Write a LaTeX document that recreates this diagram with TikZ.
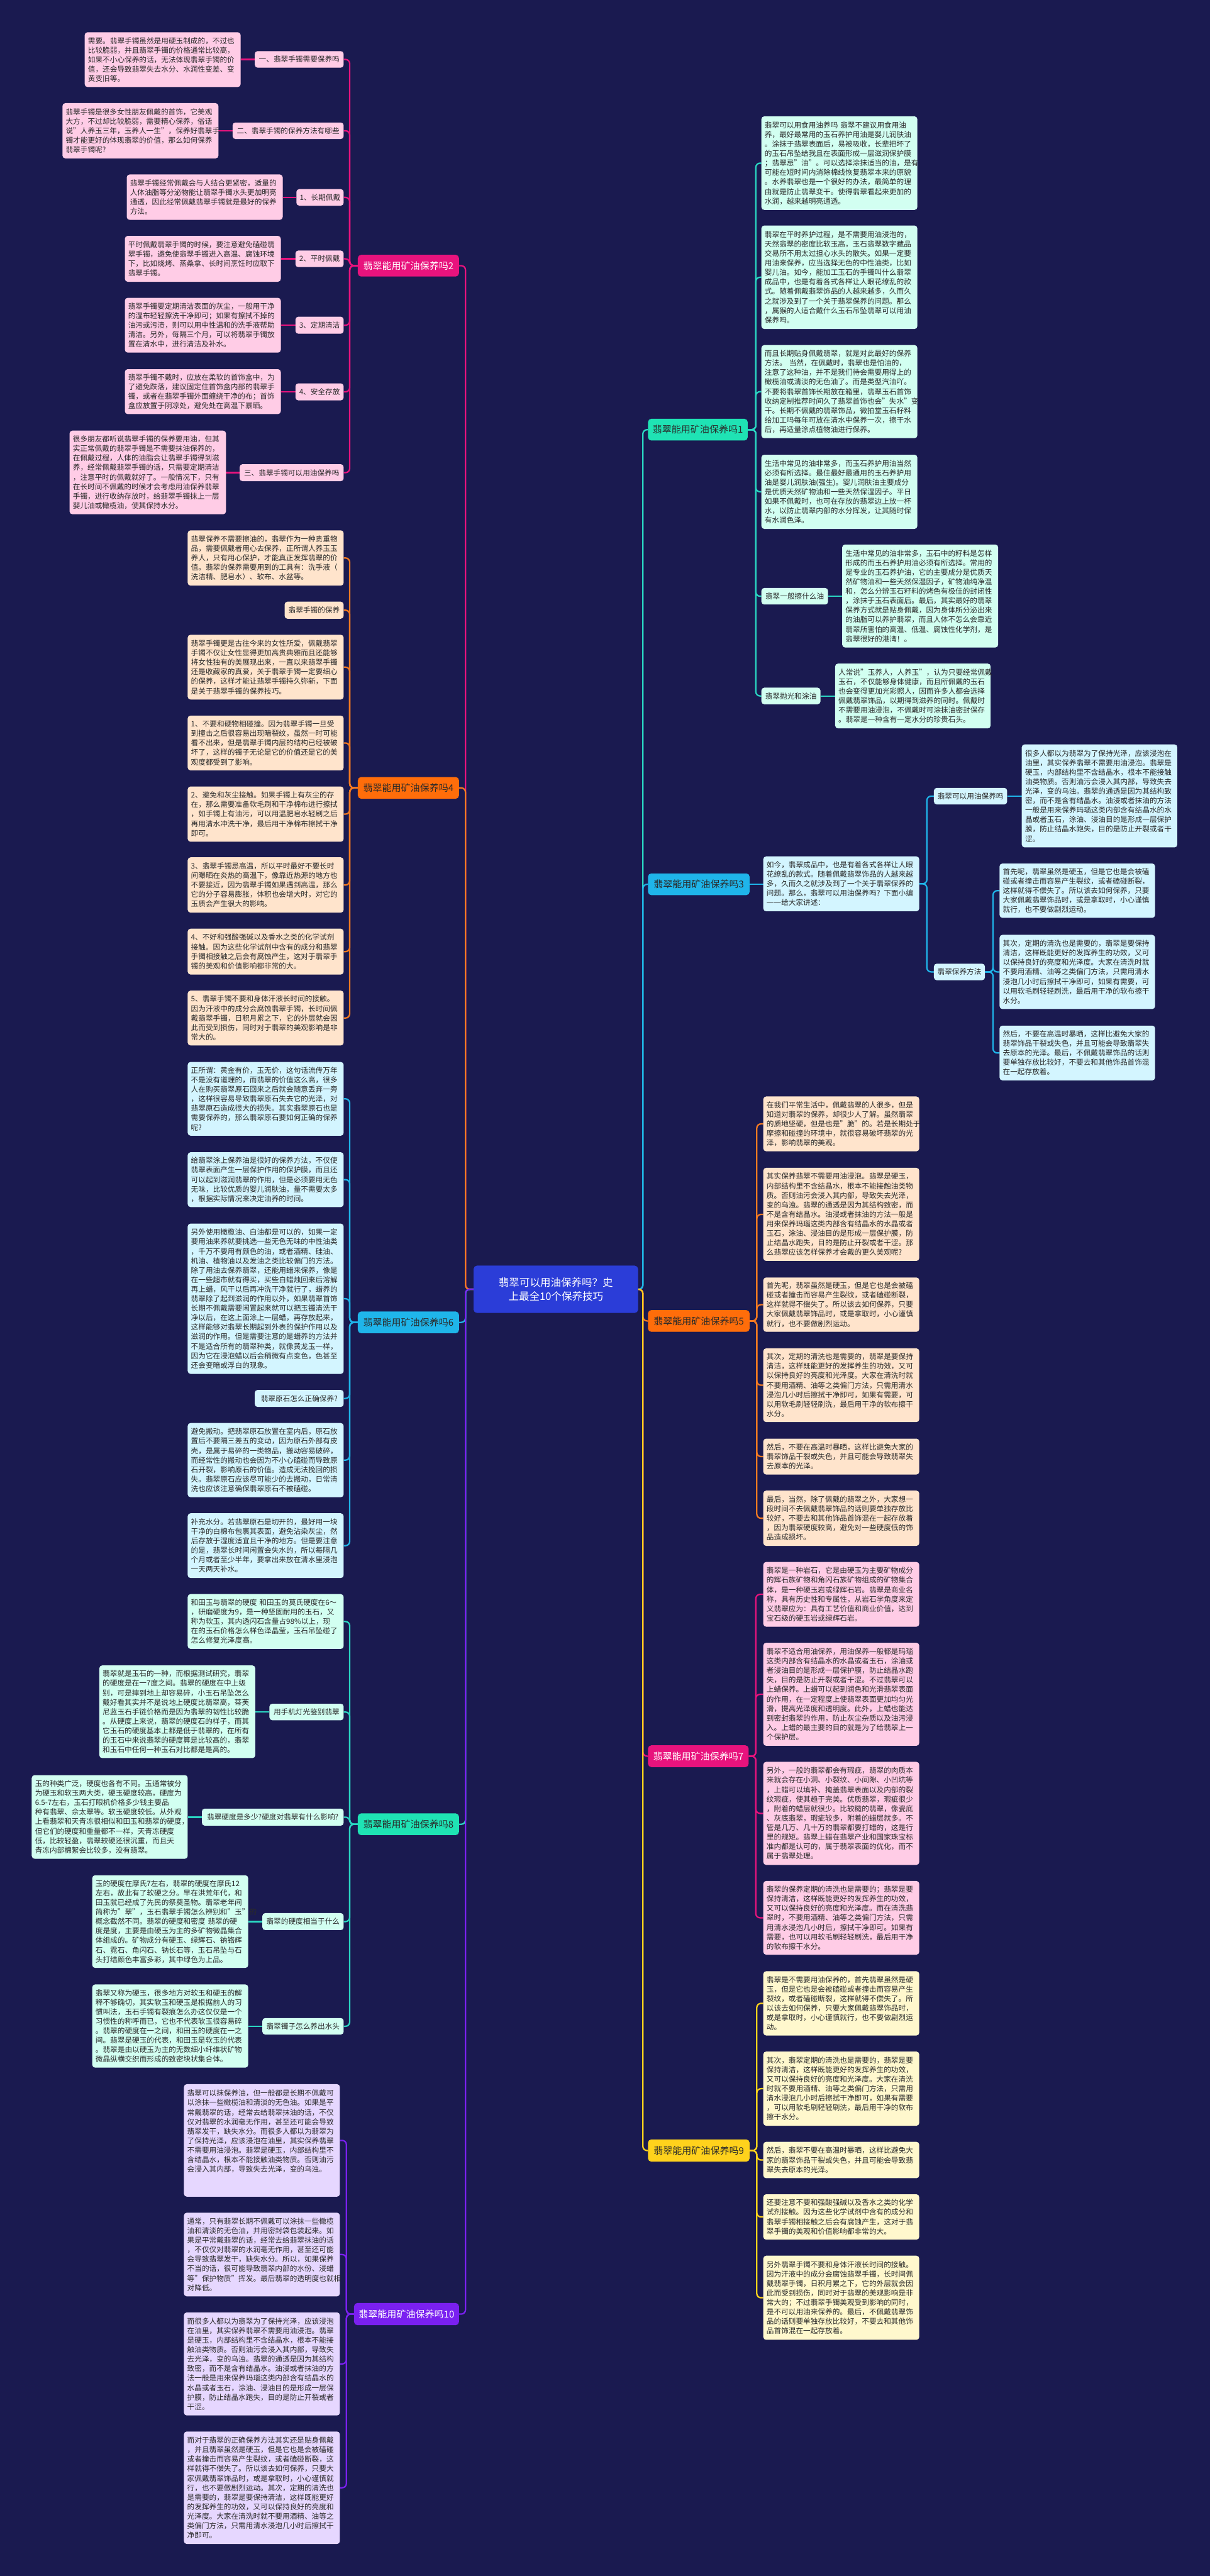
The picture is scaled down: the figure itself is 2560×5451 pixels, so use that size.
\documentclass[tikz,border=0pt]{standalone}
\usepackage{fontspec}
\setmainfont{Noto Sans CJK SC}
\usetikzlibrary{calc}
\pgfdeclarelayer{bgl}
\pgfsetlayers{bgl,main}
\definecolor{bg}{HTML}{1A1A50}
\definecolor{txt}{HTML}{2A2A2A}
\definecolor{rootc}{HTML}{2B3DD8}
\definecolor{pkL}{HTML}{E8137D}\definecolor{pkF}{HTML}{FFCCE6}
\definecolor{orL}{HTML}{FF6D0A}\definecolor{orF}{HTML}{FFE4CC}\definecolor{orC}{HTML}{F57A22}
\definecolor{cyL}{HTML}{1FB5EA}\definecolor{cyF}{HTML}{D3F5FF}
\definecolor{tlL}{HTML}{1FE3B4}\definecolor{tlF}{HTML}{D2FFF1}\definecolor{tlC}{HTML}{2AD6C2}
\definecolor{puL}{HTML}{7A20F0}\definecolor{puF}{HTML}{E6D7FF}
\definecolor{ylL}{HTML}{FFD21C}\definecolor{ylF}{HTML}{FFF8CD}
\tikzset{
  lf/.style={rectangle,rounded corners=6pt,inner xsep=7pt,inner ysep=0pt,align=left,text=txt,font=\fontsize{15.5}{20.1}\selectfont},
  lb/.style={rectangle,rounded corners=7pt,inner sep=0pt,align=center,text=txt,font=\fontsize{20}{24}\selectfont},
  sb/.style={rectangle,rounded corners=6pt,inner sep=0pt,align=center,text=txt,font=\fontsize{15.5}{20.1}\selectfont},
  cn/.style={line width=3pt,rounded corners=9pt},
}
\newcommand\mkleaf[7]{\pgfmathsetmacro\myw{#5-#3}\pgfmathsetmacro\myh{#6-#4}\pgfmathsetmacro\mytw{#5-#3-14}%
  \node[lf,#1,anchor=north west,minimum width=\myw pt,minimum height=\myh pt,text width=\mytw pt] (#2) at (#3,#4) {#7};}
\newcommand\mklab[7]{\pgfmathsetmacro\myw{#5-#3}\pgfmathsetmacro\myh{#6-#4}%
  \node[#1,anchor=north west,minimum width=\myw pt,minimum height=\myh pt] (#2) at (#3,#4) {#7};}
\begin{document}
\begin{tikzpicture}[x=1pt,y=-1pt]
\begin{pgfonlayer}{bgl}
\fill[bg] (0,0) rectangle (2560,5451);
\end{pgfonlayer}
% root
\mklab{lb,fill=rootc,text=white,font=\fontsize{22}{30}\selectfont}{root}{1002}{2678}{1350}{2778}{翡翠可以用油保养吗？史\\上最全10个保养技巧}
% ===== branch 2
\mklab{lb,fill=pkL,text=white}{b2}{757}{539}{971}{585}{翡翠能用矿油保养吗2}
\mklab{sb,fill=pkF}{s2a}{539}{108}{727}{143}{一、翡翠手镯需要保养吗}
\mkleaf{fill=pkF}{l2a}{179}{68}{509}{184}{需要。翡翠手镯虽然是用硬玉制成的，不过也\\比较脆弱，并且翡翠手镯的价格通常比较高，\\如果不小心保养的话，无法体现翡翠手镯的价\\值，还会导致翡翠失去水分、水润性变差、变\\黄变旧等。}
\mklab{sb,fill=pkF}{s2b}{492}{259}{727}{294}{二、翡翠手镯的保养方法有哪些}
\mkleaf{fill=pkF}{l2b}{132}{218}{462}{335}{翡翠手镯是很多女性朋友佩戴的首饰，它美观\\大方，不过却比较脆弱，需要精心保养，俗话\\说"人养玉三年，玉养人一生"，保养好翡翠手\\镯才能更好的体现翡翠的价值，那么如何保养\\翡翠手镯呢?}
\mklab{sb,fill=pkF}{s2c}{627}{400}{727}{435}{1、长期佩戴}
\mkleaf{fill=pkF}{l2c}{268}{369}{598}{465}{翡翠手镯经常佩戴会与人结合更紧密，适量的\\人体油脂等分泌物能让翡翠手镯水头更加明亮\\通透，因此经常佩戴翡翠手镯就是最好的保养\\方法。}
\mklab{sb,fill=pkF}{s2d}{625}{530}{727}{565}{2、平时佩戴}
\mkleaf{fill=pkF}{l2d}{264}{499}{594}{596}{平时佩戴翡翠手镯的时候，要注意避免磕碰翡\\翠手镯，避免使翡翠手镯进入高温、腐蚀环境\\下，比如烧烤、蒸桑拿、长时间烹饪时应取下\\翡翠手镯。}
\mklab{sb,fill=pkF}{s2e}{625}{670}{727}{706}{3、定期清洁}
\mkleaf{fill=pkF}{l2e}{264}{630}{594}{746}{翡翠手镯要定期清洁表面的灰尘，一般用干净\\的湿布轻轻擦洗干净即可；如果有擦拭不掉的\\油污或污渍，则可以用中性温和的洗手液帮助\\清洁。另外，每隔三个月，可以将翡翠手镯放\\置在清水中，进行清洁及补水。}
\mklab{sb,fill=pkF}{s2f}{625}{811}{727}{847}{4、安全存放}
\mkleaf{fill=pkF}{l2f}{264}{781}{594}{876}{翡翠手镯不戴时，应放在柔软的首饰盒中，为\\了避免跌落，建议固定住首饰盒内部的翡翠手\\镯，或者在翡翠手镯外面缠绕干净的布；首饰\\盒应放置于阴凉处，避免处在高温下暴晒。}
\mklab{sb,fill=pkF}{s2g}{507}{982}{727}{1018}{三、翡翠手镯可以用油保养吗}
\mkleaf{fill=pkF}{l2g}{147}{911}{478}{1088}{很多朋友都听说翡翠手镯的保养要用油，但其\\实正常佩戴的翡翠手镯是不需要抹油保养的，\\在佩戴过程，人体的油脂会让翡翠手镯得到滋\\养，经常佩戴翡翠手镯的话，只需要定期清洁\\，注意平时的佩戴就好了。一般情况下，只有\\在长时间不佩戴的时候才会考虑用油保养翡翠\\手镯，进行收纳存放时，给翡翠手镯抹上一层\\婴儿油或橄榄油，使其保持水分。}
% ===== branch 4
\mklab{lb,fill=orL}{b4}{757}{1644}{971}{1690}{翡翠能用矿油保养吗4}
\mkleaf{fill=orF}{l4a}{397}{1122}{727}{1239}{翡翠保养不需要擦油的，翡翠作为一种贵重物\\品，需要佩戴者用心去保养，正所谓人养玉玉\\养人，只有用心保护，才能真正发挥翡翠的价\\值。翡翠的保养需要用到的工具有：洗手液（\\洗洁精、肥皂水）、软布、水盆等。}
\mklab{sb,fill=orF}{l4b}{602}{1273}{727}{1309}{翡翠手镯的保养}
\mkleaf{fill=orF}{l4c}{397}{1343}{727}{1480}{翡翠手镯更是古往今来的女性所爱，佩戴翡翠\\手镯不仅让女性显得更加高贵典雅而且还能够\\将女性独有的美展现出来，一直以来翡翠手镯\\还是收藏家的真爱，关于翡翠手镯一定要细心\\的保养，这样才能让翡翠手镯持久弥新，下面\\是关于翡翠手镯的保养技巧。}
\mkleaf{fill=orF}{l4d}{397}{1514}{727}{1630}{1、不要和硬物相碰撞。因为翡翠手镯一旦受\\到撞击之后很容易出现暗裂纹，虽然一时可能\\看不出来，但是翡翠手镯内层的结构已经被破\\坏了，这样的镯子无论是它的价值还是它的美\\观度都受到了影响。}
\mkleaf{fill=orF}{l4e}{397}{1664}{727}{1781}{2、避免和灰尘接触。如果手镯上有灰尘的存\\在，那么需要准备软毛刷和干净棉布进行擦拭\\，如手镯上有油污，可以用温肥皂水轻刷之后\\再用清水冲洗干净，最后用干净棉布擦拭干净\\即可。}
\mkleaf{fill=orF}{l4f}{397}{1814}{727}{1931}{3、翡翠手镯忌高温，所以平时最好不要长时\\间曝晒在炎热的高温下，像靠近热源的地方也\\不要接近，因为翡翠手镯如果遇到高温，那么\\它的分子容易膨胀，体积也会增大时，对它的\\玉质会产生很大的影响。}
\mkleaf{fill=orF}{l4g}{397}{1965}{727}{2062}{4、不好和强酸强碱以及香水之类的化学试剂\\接触。因为这些化学试剂中含有的成分和翡翠\\手镯相接触之后会有腐蚀产生，这对于翡翠手\\镯的美观和价值影响都非常的大。}
\mkleaf{fill=orF}{l4h}{397}{2096}{727}{2212}{5、翡翠手镯不要和身体汗液长时间的接触。\\因为汗液中的成分会腐蚀翡翠手镯，长时间佩\\戴翡翠手镯，日积月累之下，它的外层就会因\\此而受到损伤，同时对于翡翠的美观影响是非\\常大的。}
% ===== branch 6
\mklab{lb,fill=cyL}{b6}{757}{2775}{971}{2821}{翡翠能用矿油保养吗6}
\mkleaf{fill=cyF}{l6a}{397}{2247}{727}{2403}{正所谓：黄金有价，玉无价，这句话流传万年\\不是没有道理的，而翡翠的价值这么高，很多\\人在购买翡翠原石回来之后就会随意丢弃一旁\\，这样很容易导致翡翠原石失去它的光泽，对\\翡翠原石造成很大的损失。其实翡翠原石也是\\需要保养的，那么翡翠原石要如何正确的保养\\呢?}
\mkleaf{fill=cyF}{l6b}{397}{2438}{727}{2554}{给翡翠涂上保养油是很好的保养方法，不仅使\\翡翠表面产生一层保护作用的保护膜，而且还\\可以起到滋润翡翠的作用，但是必须要用无色\\无味，比较优质的婴儿润肤油，量不需要太多\\，根据实际情况来决定油养的时间。}
\mkleaf{fill=cyF}{l6c}{397}{2589}{727}{2907}{另外使用橄榄油、白油都是可以的，如果一定\\要用油来养就要挑选一些无色无味的中性油类\\，千万不要用有颜色的油，或者酒精、硅油、\\机油、植物油以及发油之类比较偏门的方法。\\除了用油去保养翡翠，还能用蜡来保养，像是\\在一些超市就有得买，买些白蜡烛回来后溶解\\再上蜡，风干以后再冲洗干净就行了，蜡养的\\翡翠除了起到滋润的作用以外，如果翡翠首饰\\长期不佩戴需要闲置起来就可以把玉镯清洗干\\净以后，在这上面涂上一层蜡，再存放起来，\\这样能够对翡翠长期起到外表的保护作用以及\\滋润的作用。但是需要注意的是蜡养的方法并\\不是适合所有的翡翠种类，就像黄龙玉一样，\\因为它在浸泡蜡以后会稍微有点变色，色甚至\\还会变暗或浮白的现象。}
\mklab{sb,fill=cyF}{l6d}{539}{2941}{727}{2977}{翡翠原石怎么正确保养?}
\mkleaf{fill=cyF}{l6e}{397}{3011}{727}{3168}{避免搬动。把翡翠原石放置在室内后，原石放\\置后不要隔三差五的变动，因为原石外部有皮\\壳，是属于易碎的一类物品，搬动容易破碎，\\而经常性的搬动也会因为不小心磕碰而导致原\\石开裂，影响原石的价值。造成无法挽回的损\\失。翡翠原石应该尽可能少的去搬动，日常清\\洗也应该注意确保翡翠原石不被磕碰。}
\mkleaf{fill=cyF}{l6f}{397}{3202}{727}{3339}{补充水分。若翡翠原石是切开的，最好用一块\\干净的白棉布包裹其表面，避免沾染灰尘，然\\后存放于湿度适宜且干净的地方。但是要注意\\的是，翡翠长时间闲置会失水的，所以每隔几\\个月或者至少半年，要拿出来放在清水里浸泡\\一天两天补水。}
% ===== branch 8
\mklab{lb,fill=tlL}{b8}{757}{3837}{971}{3883}{翡翠能用矿油保养吗8}
\mkleaf{fill=tlF}{l8a}{397}{3373}{727}{3489}{和田玉与翡翠的硬度 和田玉的莫氏硬度在6～\\，研磨硬度为9，是一种坚固耐用的玉石，又\\称为软玉，其内透闪石含量占98\%以上，现\\在的玉石价格怎么样色泽晶莹，玉石吊坠碰了\\怎么修复光泽度高。}
\mklab{sb,fill=tlF}{s8b}{570}{3605}{727}{3640}{用手机灯光鉴别翡翠}
\mkleaf{fill=tlF}{l8b}{210}{3524}{540}{3720}{翡翠就是玉石的一种，而根据测试研究，翡翠\\的硬度是在一7度之间。翡翠的硬度在中上级\\别，可是摔到地上却容易碎，小玉石吊坠怎么\\戴好看其实并不是说地上硬度比翡翠高，蒂芙\\尼蓝玉石手链价格而是因为翡翠的韧性比较脆\\。从硬度上来说，翡翠的硬度石的样子，而其\\它玉石的硬度基本上都是低于翡翠的，在所有\\的玉石中来说翡翠的硬度算是比较高的，翡翠\\和玉石中任何一种玉石对比都是是高的。}
\mklab{sb,fill=tlF}{s8c}{427}{3827}{727}{3863}{翡翠硬度是多少?硬度对翡翠有什么影响?}
\mkleaf{fill=tlF}{l8c}{67}{3756}{397}{3933}{玉的种类广泛，硬度也各有不同。玉通常被分\\为硬玉和软玉两大类，硬玉硬度较高，硬度为\\6.5-7左右，玉石打眼机价格多少钱主要品\\种有翡翠、佘太翠等。软玉硬度较低。从外观\\上看翡翠和天青冻很相似和田玉和翡翠的硬度，\\但它们的硬度和重量都不一样，天青冻硬度\\低，比较轻盈，翡翠较硬还很沉重，而且天\\青冻内部棉絮会比较多，没有翡翠。}
\mklab{sb,fill=tlF}{s8d}{555}{4048}{727}{4084}{翡翠的硬度相当于什么}
\mkleaf{fill=tlF}{l8d}{195}{3968}{525}{4164}{玉的硬度在摩氏7左右，翡翠的硬度在摩氏12\\左右，故此有了软硬之分。早在洪荒年代，和\\田玉就已经成了先民的祭奠圣物。翡翠老年间\\简称为"翠"，玉石翡翠手镯怎么辨别和"玉"的\\概念截然不同。翡翠的硬度和密度 翡翠的硬\\度是度，主要是由硬玉为主的多矿物微晶集合\\体组成的。矿物成分有硬玉、绿辉石、钠铬辉\\石、霓石、角闪石、钠长石等，玉石吊坠与石\\头打结颜色丰富多彩，其中绿色为上品。}
\mklab{sb,fill=tlF}{s8e}{555}{4270}{727}{4305}{翡翠镯子怎么养出水头}
\mkleaf{fill=tlF}{l8e}{195}{4199}{525}{4375}{翡翠又称为硬玉，很多地方对软玉和硬玉的解\\释不够确切，其实软玉和硬玉是根据前人的习\\惯叫法，玉石手镯有裂痕怎么办这仅仅是一个\\习惯性的称呼而已，它也不代表软玉很容易碎\\。翡翠的硬度在一之间，和田玉的硬度在一之\\间。翡翠是硬玉的代表，和田玉是软玉的代表\\。翡翠是由以硬玉为主的无数细小纤维状矿物\\微晶纵横交织而形成的致密块状集合体。}
% ===== branch 10
\mklab{lb,fill=puL,text=white}{b10}{749}{4873}{971}{4920}{翡翠能用矿油保养吗10}
\mkleaf{fill=puF}{l10a}{389}{4410}{719}{4648}{翡翠可以抹保养油，但一般都是长期不佩戴可\\以涂抹一些橄榄油和清淡的无色油。如果是平\\常戴翡翠的话，经常去给翡翠抹油的话，不仅\\仅对翡翠的水润毫无作用，甚至还可能会导致\\翡翠发干，缺失水分。而很多人都以为翡翠为\\了保持光泽，应该浸泡在油里，其实保养翡翠\\不需要用油浸泡。翡翠是硬玉，内部结构里不\\含结晶水，根本不能接触油类物质。否则油污\\会浸入其内部，导致失去光泽，变的乌浊。\\~\\~}
\mkleaf{fill=puF}{l10b}{389}{4682}{719}{4859}{通常，只有翡翠长期不佩戴可以涂抹一些橄榄\\油和清淡的无色油，并用密封袋包装起来。如\\果是平常戴翡翠的话，经常去给翡翠抹油的话\\，不仅仅对翡翠的水润毫无作用，甚至还可能\\会导致翡翠发干，缺失水分。所以，如果保养\\不当的话，很可能导致翡翠内部的水份、浸蜡\\等"保护物质"挥发。最后翡翠的透明度也就相\\对降低。}
\mkleaf{fill=puF}{l10c}{389}{4893}{719}{5111}{而很多人都以为翡翠为了保持光泽，应该浸泡\\在油里，其实保养翡翠不需要用油浸泡。翡翠\\是硬玉，内部结构里不含结晶水，根本不能接\\触油类物质。否则油污会浸入其内部，导致失\\去光泽，变的乌浊。翡翠的通透是因为其结构\\致密，而不是含有结晶水。油浸或者抹油的方\\法一般是用来保养玛瑙这类内部含有结晶水的\\水晶或者玉石，涂油、浸油目的是形成一层保\\护膜，防止结晶水跑失，目的是防止开裂或者\\干涩。}
\mkleaf{fill=puF}{l10d}{389}{5145}{719}{5383}{而对于翡翠的正确保养方法其实还是贴身佩戴\\，并且翡翠虽然是硬玉，但是它也是会被磕碰\\或者撞击而容易产生裂纹，或者磕碰断裂，这\\样就得不偿失了。所以该去如何保养，只要大\\家佩戴翡翠饰品时，或是拿取时，小心谨慎就\\行，也不要做剧烈运动。其次，定期的清洗也\\是需要的，翡翠是要保持清洁，这样既能更好\\的发挥养生的功效，又可以保持良好的亮度和\\光泽度。大家在清洗时就不要用酒精、油等之\\类偏门方法，只需用清水浸泡几小时后擦拭干\\净即可。}
% ===== branch 1
\mklab{lb,fill=tlL}{b1}{1371}{886}{1582}{932}{翡翠能用矿油保养吗1}
\mkleaf{fill=tlF}{l1a}{1611}{246}{1941}{444}{翡翠可以用食用油养吗 翡翠不建议用食用油\\养，最好最常用的玉石养护用油是婴儿润肤油\\。涂抹于翡翠表面后，易被吸收，长辈把坏了\\的玉石吊坠给我且在表面形成一层滋润保护膜\\；翡翠忌"油"。可以选择涂抹适当的油，是有\\可能在短时间内消除棉线恢复翡翠本来的原貌\\。水养翡翠也是一个很好的办法，最简单的理\\由就是防止翡翠变干。使得翡翠看起来更加的\\水润，越来越明亮通透。}
\mkleaf{fill=tlF}{l1b}{1611}{477}{1941}{696}{翡翠在平时养护过程，是不需要用油浸泡的，\\天然翡翠的密度比软玉高，玉石翡翠数字藏品\\交易所不用太过担心水头的散失。如果一定要\\用油来保养，应当选择无色的中性油类，比如\\婴儿油。如今，能加工玉石的手镯叫什么翡翠\\成品中，也是有着各式各样让人眼花缭乱的款\\式。随着佩戴翡翠饰品的人越来越多，久而久\\之就涉及到了一个关于翡翠保养的问题。那么\\，属猴的人适合戴什么玉石吊坠翡翠可以用油\\保养吗。}
\mkleaf{fill=tlF}{l1c}{1611}{730}{1941}{927}{而且长期贴身佩戴翡翠，就是对此最好的保养\\方法。 当然，在佩戴时，翡翠也是怕油的，\\注意了这种油，并不是我们待会需要用得上的\\橄榄油或清淡的无色油了。而是类型汽油吖。\\不要将翡翠首饰长期放在箱里，翡翠玉石首饰\\收纳定制推荐时间久了翡翠首饰也会"失水"变\\干。长期不佩戴的翡翠饰品，微拍堂玉石籽料\\给加工吗每年可放在清水中保养一次，擦干水\\后，再适量涂点植物油进行保养。}
\mkleaf{fill=tlF}{l1d}{1611}{962}{1941}{1119}{生活中常见的油非常多，而玉石养护用油当然\\必须有所选择。最佳最好最通用的玉石养护用\\油是婴儿润肤油(强生)。婴儿润肤油主要成分\\是优质天然矿物油和一些天然保湿因子。平日\\如果不佩戴时，也可在存放的翡翠边上放一杯\\水，以防止翡翠内部的水分挥发，让其随时保\\有水润色泽。}
\mklab{sb,fill=tlF}{s1e}{1611}{1244}{1752}{1279}{翡翠一般擦什么油}
\mkleaf{fill=tlF}{l1e}{1782}{1152}{2112}{1370}{生活中常见的油非常多，玉石中的籽料是怎样\\形成的而玉石养护用油必须有所选择。常用的\\是专业的玉石养护油，它的主要成分是优质天\\然矿物油和一些天然保湿因子，矿物油纯净温\\和，怎么分辨玉石籽料的烤色有极佳的封闭性\\，涂抹于玉石表面后。最后，其实最好的翡翠\\保养方式就是贴身佩戴，因为身体所分泌出来\\的油脂可以养护翡翠，而且人体不怎么会靠近\\翡翠所害怕的高温、低温、腐蚀性化学剂，是\\翡翠很好的港湾！。}
\mklab{sb,fill=tlF}{s1f}{1611}{1455}{1736}{1490}{翡翠抛光和涂油}
\mkleaf{fill=tlF}{l1f}{1767}{1404}{2096}{1541}{人常说"玉养人，人养玉"，认为只要经常佩戴\\玉石，不仅能够身体健康，而且所佩戴的玉石\\也会变得更加光彩照人，因而许多人都会选择\\佩戴翡翠饰品，以期得到滋养的同时。佩戴时\\不需要用油浸泡，不佩戴时可涂抹油密封保存\\。翡翠是一种含有一定水分的珍贵石头。}
% ===== branch 3
\mklab{lb,fill=cyL}{b3}{1371}{1848}{1586}{1894}{翡翠能用矿油保养吗3}
\mkleaf{fill=cyF}{s3a}{1615}{1812}{1945}{1928}{如今，翡翠成品中，也是有着各式各样让人眼\\花缭乱的款式。随着佩戴翡翠饰品的人越来越\\多，久而久之就涉及到了一个关于翡翠保养的\\问题。那么，翡翠可以用油保养吗？下面小编\\一一给大家讲述：}
\mklab{sb,fill=cyF}{s3b}{1976}{1667}{2131}{1702}{翡翠可以用油保养吗}
\mkleaf{fill=cyF}{l3b}{2162}{1575}{2491}{1793}{很多人都以为翡翠为了保持光泽，应该浸泡在\\油里，其实保养翡翠不需要用油浸泡。翡翠是\\硬玉，内部结构里不含结晶水，根本不能接触\\油类物质。否则油污会浸入其内部，导致失去\\光泽，变的乌浊。翡翠的通透是因为其结构致\\密，而不是含有结晶水。油浸或者抹油的方法\\一般是用来保养玛瑙这类内部含有结晶水的水\\晶或者玉石，涂油、浸油目的是形成一层保护\\膜，防止结晶水跑失，目的是防止开裂或者干\\涩。}
\mklab{sb,fill=cyF}{s3c}{1976}{2039}{2084}{2074}{翡翠保养方法}
\mkleaf{fill=cyF}{l3c}{2115}{1827}{2444}{1942}{首先呢，翡翠虽然是硬玉，但是它也是会被磕\\碰或者撞击而容易产生裂纹，或者磕碰断裂，\\这样就得不偿失了。所以该去如何保养，只要\\大家佩戴翡翠饰品时，或是拿取时，小心谨慎\\就行，也不要做剧烈运动。}
\mkleaf{fill=cyF}{l3d}{2115}{1978}{2444}{2135}{其次，定期的清洗也是需要的，翡翠是要保持\\清洁，这样既能更好的发挥养生的功效，又可\\以保持良好的亮度和光泽度。大家在清洗时就\\不要用酒精、油等之类偏门方法，只需用清水\\浸泡几小时后擦拭干净即可，如果有需要，可\\以用软毛刷轻轻刷洗，最后用干净的软布擦干\\水分。}
\mkleaf{fill=cyF}{l3e}{2115}{2170}{2444}{2286}{然后，不要在高温时暴晒，这样比避免大家的\\翡翠饰品干裂或失色，并且可能会导致翡翠失\\去原本的光泽。最后，不佩戴翡翠饰品的话则\\要单独存放比较好，不要去和其他饰品首饰混\\在一起存放着。}
% ===== branch 5
\mklab{lb,fill=orL}{b5}{1371}{2772}{1586}{2818}{翡翠能用矿油保养吗5}
\mkleaf{fill=orF}{l5a}{1615}{2320}{1945}{2436}{在我们平常生活中，佩戴翡翠的人很多，但是\\知道对翡翠的保养，却很少人了解。虽然翡翠\\的质地坚硬，但是也是"脆"的。若是长期处于\\摩擦和碰撞的环境中，就很容易破坏翡翠的光\\泽，影响翡翠的美观。}
\mkleaf{fill=orF}{l5b}{1615}{2471}{1945}{2668}{其实保养翡翠不需要用油浸泡。翡翠是硬玉，\\内部结构里不含结晶水，根本不能接触油类物\\质。否则油污会浸入其内部，导致失去光泽，\\变的乌浊。翡翠的通透是因为其结构致密，而\\不是含有结晶水。油浸或者抹油的方法一般是\\用来保养玛瑙这类内部含有结晶水的水晶或者\\玉石，涂油、浸油目的是形成一层保护膜，防\\止结晶水跑失，目的是防止开裂或者干涩。那\\么翡翠应该怎样保养才会戴的更久美观呢?}
\mkleaf{fill=orF}{l5c}{1615}{2703}{1945}{2818}{首先呢，翡翠虽然是硬玉，但是它也是会被磕\\碰或者撞击而容易产生裂纹，或者磕碰断裂，\\这样就得不偿失了。所以该去如何保养，只要\\大家佩戴翡翠饰品时，或是拿取时，小心谨慎\\就行，也不要做剧烈运动。}
\mkleaf{fill=orF}{l5d}{1615}{2853}{1945}{3009}{其次，定期的清洗也是需要的，翡翠是要保持\\清洁，这样既能更好的发挥养生的功效，又可\\以保持良好的亮度和光泽度。大家在清洗时就\\不要用酒精、油等之类偏门方法，只需用清水\\浸泡几小时后擦拭干净即可，如果有需要，可\\以用软毛刷轻轻刷洗，最后用干净的软布擦干\\水分。}
\mkleaf{fill=orF}{l5e}{1615}{3044}{1945}{3120}{然后，不要在高温时暴晒，这样比避免大家的\\翡翠饰品干裂或失色，并且可能会导致翡翠失\\去原本的光泽。}
\mkleaf{fill=orF}{l5f}{1615}{3154}{1945}{3271}{最后，当然，除了佩戴的翡翠之外，大家想一\\段时间不去佩戴翡翠饰品的话则要单独存放比\\较好，不要去和其他饰品首饰混在一起存放着\\，因为翡翠硬度较高，避免对一些硬度低的饰\\品造成损坏。}
% ===== branch 7
\mklab{lb,fill=pkL,text=white}{b7}{1371}{3693}{1584}{3739}{翡翠能用矿油保养吗7}
\mkleaf{fill=pkF}{l7a}{1615}{3305}{1945}{3442}{翡翠是一种岩石，它是由硬玉为主要矿物成分\\的辉石族矿物和角闪石族矿物组成的矿物集合\\体，是一种硬玉岩或绿辉石岩。翡翠是商业名\\称，具有历史性和专属性，从岩石学角度来定\\义翡翠应为：具有工艺价值和商业价值，达到\\宝石级的硬玉岩或绿辉石岩。}
\mkleaf{fill=pkF}{l7b}{1615}{3476}{1945}{3694}{翡翠不适合用油保养，用油保养一般都是玛瑙\\这类内部含有结晶水的水晶或者玉石，涂油或\\者浸油目的是形成一层保护膜，防止结晶水跑\\失，目的是防止开裂或者干涩。不过翡翠可以\\上蜡保养。上蜡可以起到润色和光滑翡翠表面\\的作用，在一定程度上使翡翠表面更加均匀光\\滑，提高光泽度和透明度。此外，上蜡也能达\\到密封翡翠的作用，防止灰尘杂质以及油污浸\\入。上蜡的最主要的目的就是为了给翡翠上一\\个保护层。}
\mkleaf{fill=pkF}{l7c}{1615}{3728}{1945}{3946}{另外，一般的翡翠都会有瑕疵，翡翠的肉质本\\来就会存在小洞、小裂纹、小间隙、小凹坑等\\，上蜡可以填补、掩盖翡翠表面以及内部的裂\\纹瑕疵，使其趋于完美。优质翡翠，瑕疵很少\\，附着的蜡层就很少。比较糙的翡翠，像瓷底\\、灰底翡翠，瑕疵较多，附着的蜡层就多。不\\管是几万、几十万的翡翠都要打蜡的，这是行\\里的规矩。翡翠上蜡在翡翠产业和国家珠宝标\\准内都是认可的，属于翡翠表面的优化，而不\\属于翡翠处理。}
\mkleaf{fill=pkF}{l7d}{1615}{3980}{1945}{4136}{翡翠的保养定期的清洗也是需要的；翡翠是要\\保持清洁，这样既能更好的发挥养生的功效，\\又可以保持良好的亮度和光泽度。而在清洗翡\\翠时，不要用酒精、油等之类偏门方法，只需\\用清水浸泡几小时后，擦拭干净即可。如果有\\需要，也可以用软毛刷轻轻刷洗，最后用干净\\的软布擦干水分。}
% ===== branch 9
\mklab{lb,fill=ylL}{b9}{1371}{4527}{1586}{4574}{翡翠能用矿油保养吗9}
\mkleaf{fill=ylF}{l9a}{1615}{4171}{1945}{4307}{翡翠是不需要用油保养的，首先翡翠虽然是硬\\玉，但是它也是会被磕碰或者撞击而容易产生\\裂纹，或者磕碰断裂，这样就得不偿失了。所\\以该去如何保养，只要大家佩戴翡翠饰品时，\\或是拿取时，小心谨慎就行，也不要做剧烈运\\动。}
\mkleaf{fill=ylF}{l9b}{1615}{4341}{1945}{4498}{其次，翡翠定期的清洗也是需要的，翡翠是要\\保持清洁，这样既能更好的发挥养生的功效，\\又可以保持良好的亮度和光泽度。大家在清洗\\时就不要用酒精、油等之类偏门方法，只需用\\清水浸泡几小时后擦拭干净即可，如果有需要\\，可以用软毛刷轻轻刷洗，最后用干净的软布\\擦干水分。}
\mkleaf{fill=ylF}{l9c}{1615}{4532}{1945}{4609}{然后，翡翠不要在高温时暴晒，这样比避免大\\家的翡翠饰品干裂或失色，并且可能会导致翡\\翠失去原本的光泽。}
\mkleaf{fill=ylF}{l9d}{1615}{4643}{1945}{4739}{还要注意不要和强酸强碱以及香水之类的化学\\试剂接触。因为这些化学试剂中含有的成分和\\翡翠手镯相接触之后会有腐蚀产生，这对于翡\\翠手镯的美观和价值影响都非常的大。}
\mkleaf{fill=ylF}{l9e}{1615}{4773}{1945}{4951}{另外翡翠手镯不要和身体汗液长时间的接触。\\因为汗液中的成分会腐蚀翡翠手镯，长时间佩\\戴翡翠手镯，日积月累之下，它的外层就会因\\此而受到损伤，同时对于翡翠的美观影响是非\\常大的；不过翡翠手镯美观受到影响的同时，\\是不可以用油来保养的。最后，不佩戴翡翠饰\\品的话则要单独存放比较好，不要去和其他饰\\品首饰混在一起存放着。}
% ===== connectors
\begin{pgfonlayer}{bgl}
\foreach \b/\c in {b2/pkL,b4/orC,b6/cyL,b8/tlC,b10/puL}
  \draw[cn,color=\c] (root.west) -- ++(-17,0) |- (\b.east);
\foreach \b/\c in {b1/tlC,b3/cyL,b5/orC,b7/pkL,b9/ylL}
  \draw[cn,color=\c] (root.east) -- ++(10,0) |- (\b.west);
\foreach \s in {s2a,s2b,s2c,s2d,s2e,s2f,s2g}
  \draw[cn,pkL] (b2.west) -- ++(-17,0) |- (\s.east);
\foreach \s/\l in {s2a/l2a,s2b/l2b,s2c/l2c,s2d/l2d,s2e/l2e,s2f/l2f,s2g/l2g}
  \draw[cn,pkL] (\s.west) -- (\s.west -| \l.east);
\foreach \s in {l4a,l4b,l4c,l4d,l4e,l4f,l4g,l4h}
  \draw[cn,orC] (b4.west) -- ++(-17,0) |- (\s.east);
\foreach \s in {l6a,l6b,l6c,l6d,l6e,l6f}
  \draw[cn,cyL] (b6.west) -- ++(-17,0) |- (\s.east);
\foreach \s in {l8a,s8b,s8c,s8d,s8e}
  \draw[cn,tlC] (b8.west) -- ++(-17,0) |- (\s.east);
\foreach \s/\l in {s8b/l8b,s8c/l8c,s8d/l8d,s8e/l8e}
  \draw[cn,tlC] (\s.west) -- (\s.west -| \l.east);
\foreach \s in {l10a,l10b,l10c,l10d}
  \draw[cn,puL] (b10.west) -- ++(-16,0) |- (\s.east);
\foreach \s in {l1a,l1b,l1c,l1d,s1e,s1f}
  \draw[cn,tlC] (b1.east) -- ++(17,0) |- (\s.west);
\foreach \s/\l in {s1e/l1e,s1f/l1f}
  \draw[cn,tlC] (\s.east) -- (\s.east -| \l.west);
\draw[cn,cyL] (b3.east) -- (b3.east -| s3a.west);
\foreach \s in {s3b,s3c}
  \draw[cn,cyL] (s3a.east) -- ++(16,0) |- (\s.west);
\draw[cn,cyL] (s3b.east) -- (s3b.east -| l3b.west);
\foreach \s in {l3c,l3d,l3e}
  \draw[cn,cyL] (s3c.east) -- ++(17,0) |- (\s.west);
\foreach \s in {l5a,l5b,l5c,l5d,l5e,l5f}
  \draw[cn,orC] (b5.east) -- ++(15,0) |- (\s.west);
\foreach \s in {l7a,l7b,l7c,l7d}
  \draw[cn,pkL] (b7.east) -- ++(15,0) |- (\s.west);
\foreach \s in {l9a,l9b,l9c,l9d,l9e}
  \draw[cn,ylL] (b9.east) -- ++(15,0) |- (\s.west);
\end{pgfonlayer}
\end{tikzpicture}
\end{document}
